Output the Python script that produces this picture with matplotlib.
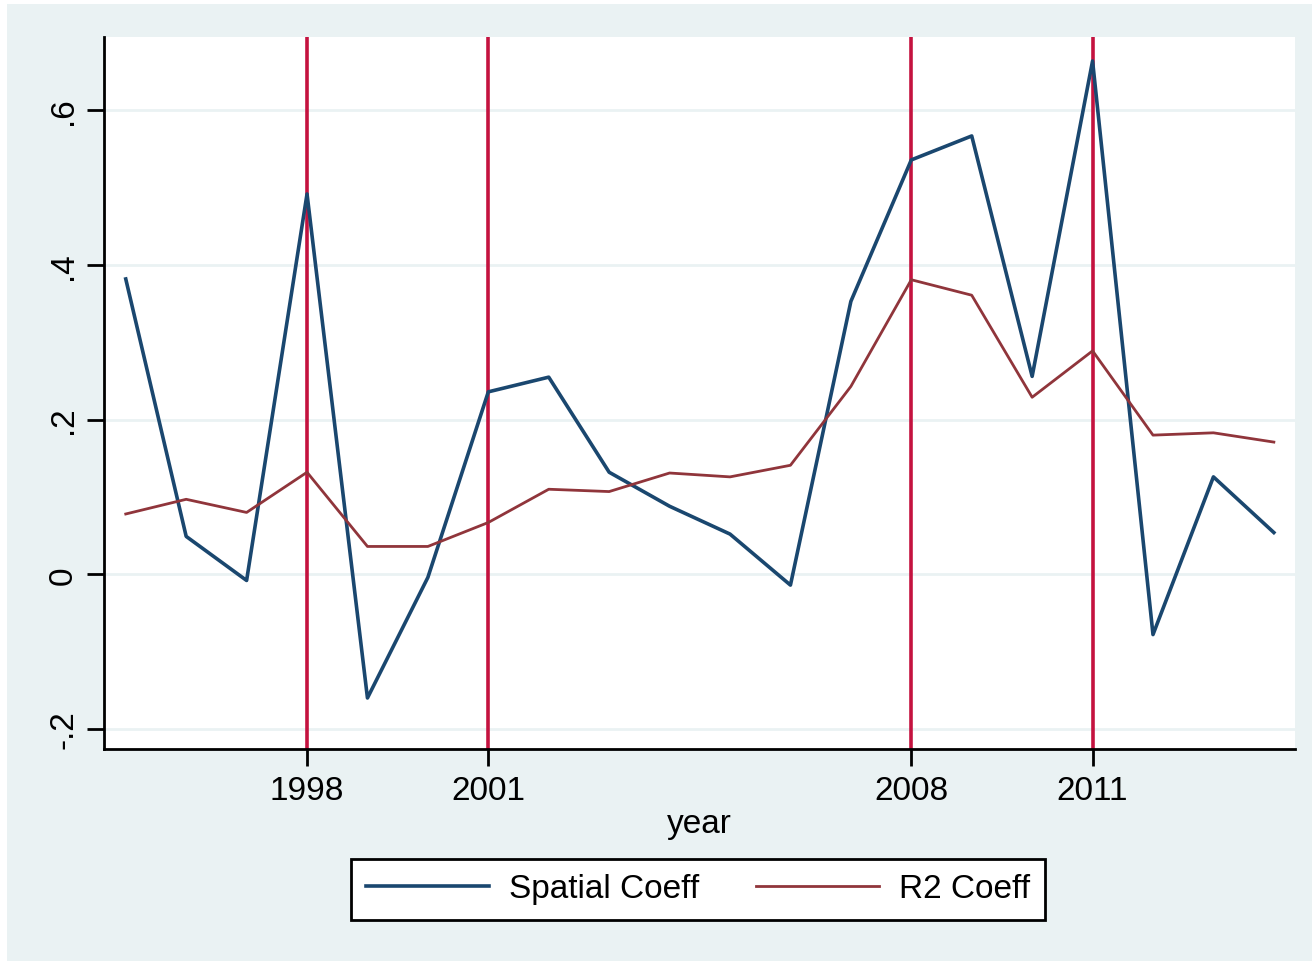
import matplotlib
matplotlib.use("Agg")
import matplotlib.pyplot as plt

years = list(range(1995, 2015))
spatial = [0.382, 0.049, -0.008, 0.492, -0.160, -0.004, 0.236, 0.255, 0.132, 0.088,
           0.052, -0.014, 0.353, 0.536, 0.567, 0.256, 0.664, -0.078, 0.126, 0.054]
r2 = [0.078, 0.097, 0.080, 0.132, 0.036, 0.036, 0.067, 0.110, 0.107, 0.131,
      0.126, 0.141, 0.243, 0.381, 0.361, 0.229, 0.289, 0.180, 0.183, 0.171]
xlines = [1998, 2001, 2008, 2011]
yticks = [-0.2, 0, 0.2, 0.4, 0.6]
ytick_labels = ["-.2", "0", ".2", ".4", ".6"]
series_names = ["Spatial Coeff", "R2 Coeff"]

plt.rcParams['font.family'] = ['Liberation Sans', 'DejaVu Sans']

W, H = 1312, 962
FS = 24
fig = plt.figure(figsize=(W / 100, H / 100), dpi=100)
fig.patch.set_facecolor('white')
bg = plt.Rectangle((7 / W, 0), (1312 - 7) / W, (962 - 5) / H, transform=fig.transFigure,
                   facecolor='#EAF2F3', edgecolor='none', zorder=-10)
fig.patches.append(bg)

ax = fig.add_axes([104 / W, 1 - 750 / H, (1295 - 104) / W, (750 - 38) / H])
ax.set_facecolor('white')

for x in xlines:
    ax.axvline(x, color='#C4123F', lw=2.6, zorder=2)

ax.plot(years, spatial, color='#1A476F', lw=2.6, label=series_names[0], zorder=3)
ax.plot(years, r2, color='#90353B', lw=2.0, label=series_names[1], zorder=3)

ax.set_xlim(1994.64, 2014.35)
ax.set_ylim(-0.226, 0.695)
ax.set_yticks(yticks)
ax.set_yticklabels(ytick_labels, rotation=90, va='center', fontsize=FS)
ax.set_xticks(xlines)
ax.set_xticklabels([str(x) for x in xlines], fontsize=FS)
ax.grid(axis='y', color='#EAF2F3', lw=2.0, zorder=0)
ax.set_axisbelow(True)
for s in ['top', 'right']:
    ax.spines[s].set_visible(False)
for s in ['left', 'bottom']:
    ax.spines[s].set_linewidth(2.0)
    ax.spines[s].set_color('black')
ax.tick_params(axis='both', length=12, width=2.0, color='black')
ax.tick_params(axis='x', pad=7)
ax.tick_params(axis='y', pad=6)
ax.set_xlabel('year', fontsize=FS, labelpad=1)

leg = fig.legend(loc='center', bbox_to_anchor=(698 / W, 1 - 890 / H), ncol=2,
                 fontsize=FS, frameon=True, fancybox=False, edgecolor='black',
                 handlelength=3.7, handletextpad=0.6, columnspacing=1.7,
                 borderpad=0.45, borderaxespad=0)
leg.get_frame().set_linewidth(2.0)
leg.get_frame().set_facecolor('white')
leg.get_frame().set_alpha(1)

fig.savefig('out.png', dpi=100, facecolor=fig.get_facecolor())
